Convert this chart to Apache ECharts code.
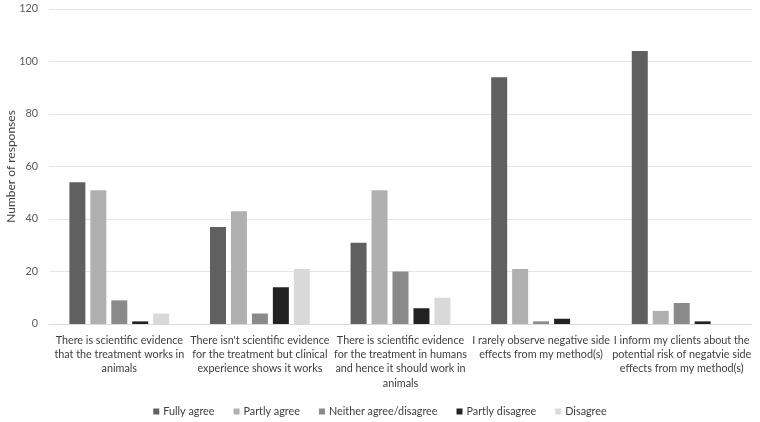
<!DOCTYPE html>
<html><head><meta charset="utf-8">
<script src="https://cdn.jsdelivr.net/npm/echarts@6/dist/echarts.min.js"></script>
<style>html,body{margin:0;padding:0;background:#fff}#c{width:760px;height:422px}</style>
</head><body><div id="c"></div>
<script>
const categories = [
  "There is scientific evidence\nthat the treatment works in\nanimals",
  "There isn't scientific evidence\nfor the treatment but clinical\nexperience shows it works",
  "There is scientific evidence\nfor the treatment in humans\nand hence it should work in\nanimals",
  "I rarely observe negative side\neffects from my method(s)",
  "I inform my clients about the\npotential risk of negatvie side\neffects from my method(s)"
];
const seriesNames = ["Fully agree", "Partly agree", "Neither agree/disagree", "Partly disagree", "Disagree"];
const fullyAgree = [54, 37, 31, 94, 104];
const partlyAgree = [51, 43, 51, 21, 5];
const neither = [9, 4, 20, 1, 8];
const partlyDisagree = [1, 14, 6, 2, 1];
const disagree = [4, 21, 10, 0, 0];
const yTicks = [0, 20, 40, 60, 80, 100, 120];
const yName = "Number of responses";

const values = [fullyAgree, partlyAgree, neither, partlyDisagree, disagree];
const colors = ["#606060", "#b0b0b0", "#8a8a8a", "#222222", "#d9d9d9"];
const font = "Lato";

// size the fonts so that the text widths match the reference
const ctx = document.createElement('canvas').getContext('2d');
ctx.font = "12px Lato";
const fs = Math.round(12 * 127 / ctx.measureText("There is scientific evidence").width * 10) / 10;
const fsName = Math.round(12 * 113 / ctx.measureText(yName).width * 10) / 10;

const chart = echarts.init(document.getElementById('c'));
chart.setOption({
  animation: false,
  textStyle: { fontFamily: font },
  grid: { left: 49, right: 8, top: 9, bottom: 98, outerBoundsMode: 'none', containLabel: false },
  legend: {
    top: 401, left: 'center', itemWidth: 6, itemHeight: 6, itemGap: 19,
    textStyle: { fontFamily: font, fontSize: fs, color: '#404040', padding: [0, 0, 0, -1] },
    data: seriesNames.map(n => ({ name: n, icon: 'rect' }))
  },
  xAxis: {
    type: 'category', data: categories,
    axisLine: { lineStyle: { color: '#d9d9d9' } },
    axisTick: { show: false },
    axisLabel: { interval: 0, fontFamily: font, fontSize: fs, color: '#404040', lineHeight: 14.3, margin: 9 }
  },
  yAxis: {
    type: 'value', min: 0, max: 120, interval: 20,
    name: yName, nameLocation: 'middle', nameGap: 32, nameRotate: 90,
    nameMoveOverlap: false,
    nameTextStyle: { fontFamily: font, fontSize: fsName, color: '#404040' },
    axisLabel: { fontFamily: font, fontSize: fs, color: '#595959', margin: 11,
      formatter: v => yTicks.includes(v) ? String(v) : '' },
    splitLine: { lineStyle: { color: '#e6e6e6' } },
    axisLine: { show: false }, axisTick: { show: false }
  },
  series: seriesNames.map((n, i) => ({
    name: n, type: 'bar', data: values[i], barWidth: 16, barGap: '31%',
    itemStyle: { color: colors[i] }
  }))
});
</script></body></html>
